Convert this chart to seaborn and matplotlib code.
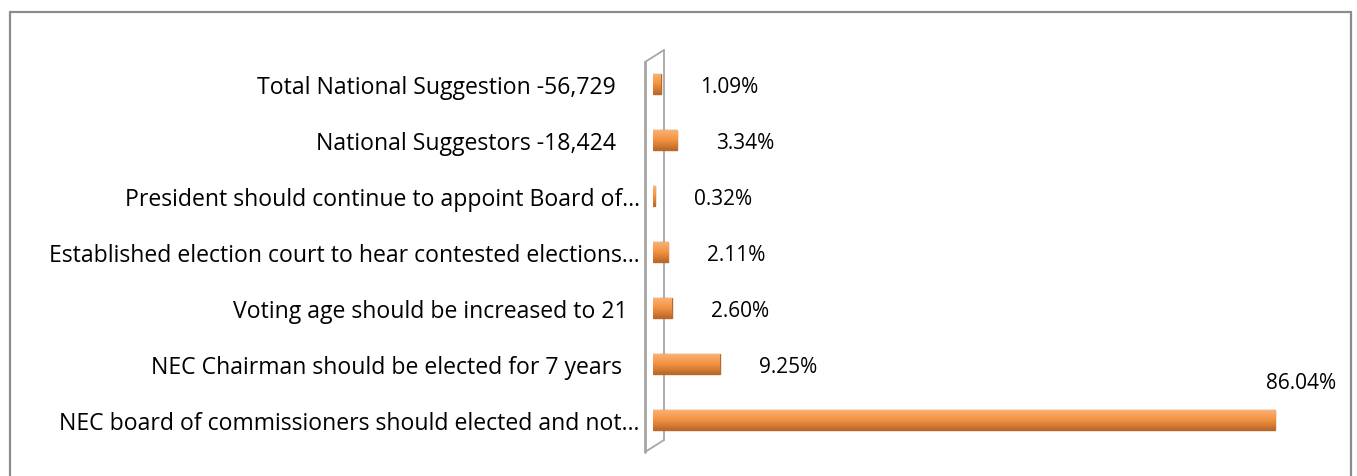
import matplotlib
matplotlib.use("Agg")
import matplotlib.pyplot as plt
from matplotlib.lines import Line2D
from matplotlib.colors import LinearSegmentedColormap
import numpy as np
import pandas as pd
import seaborn as sns

# Datos (de arriba hacia abajo)
labels = [
    "Total National Suggestion -56,729    ",
    "National Suggestors -18,424    ",
    "President should continue to appoint Board of\u2026",
    "Established election court to hear contested elections\u2026",
    "Voting age should be increased to 21  ",
    "NEC Chairman should be elected for 7 years   ",
    "NEC board of commissioners should elected and not\u2026",
]
values = [1.09, 3.34, 0.32, 2.11, 2.60, 9.25, 86.04]
value_text = ["1.09%", "3.34%", "0.32%", "2.11%", "2.60%", "9.25%", "86.04%"]

df = pd.DataFrame({"label": labels, "value": values})

sns.set_theme(style="white")
plt.rcParams["font.family"] = ["Open Sans", "DejaVu Sans"]

W, H = 1357, 477
fig = plt.figure(figsize=(W / 100, H / 100), dpi=100)
fig.patch.set_facecolor("white")

# ejes colocados en pixeles
left, right, top, bottom = 653, 1345, 40, 465
ax = fig.add_axes([left / W, (H - bottom) / H, (right - left) / W, (bottom - top) / H])

sns.barplot(data=df, x="value", y="label", orient="h", ax=ax, width=0.36,
            color="#F59A4C", edgecolor="#B8692A", linewidth=1.0, saturation=1)

ax.set_xlim(0, (right - left) / 7.23)
ax.set_ylim(6 + (bottom - 421) / 56, -(85 - top) / 56)

# sombreado tipo cilindro
cyl = LinearSegmentedColormap.from_list(
    "cyl", ["#F8B57C", "#F7A35C", "#F39445", "#D97E35", "#B8692A"])
grad = np.linspace(0, 1, 64).reshape(-1, 1)
for p in list(ax.patches):
    x0, y0 = p.get_x(), p.get_y()
    w, h = p.get_width(), p.get_height()
    im = ax.imshow(grad, cmap=cyl, aspect="auto", origin="upper",
                   extent=[x0, x0 + w, y0 + h, y0], zorder=p.get_zorder() + 0.1)
    im.set_clip_path(p)
    p.set_zorder(p.get_zorder())
ax.set_xlim(0, (right - left) / 7.23)
ax.set_ylim(6 + (bottom - 421) / 56, -(85 - top) / 56)

ax.set_xlabel("")
ax.set_ylabel("")
ax.set_xticks([])
for s in ax.spines.values():
    s.set_visible(False)
ax.tick_params(axis="y", length=0, pad=9.5, labelsize=16.6, labelcolor="#000000")
ax.patch.set_alpha(0)

# etiquetas de datos
for i, (v, t) in enumerate(zip(values, value_text)):
    if v > 50:
        ax.annotate(t, (v, i), xytext=(44, 27), textcoords="offset points",
                    ha="right", va="center", fontsize=15, color="#000000")
    else:
        ax.annotate(t, (v, i), xytext=(28, -2), textcoords="offset points",
                    ha="left", va="center", fontsize=15, color="#000000")


def px(x, y):
    return x / W, 1 - y / H


# pared 3D detras de las barras
wall = "#A6A6A6"
for (x0, y0), (x1, y1), lw in [((645, 63), (645, 453), 2.0),
                               ((664, 51), (664, 441), 1.3),
                               ((645, 63), (664, 51), 1.3),
                               ((645, 453), (664, 441), 1.3)]:
    a, b = px(x0, y0), px(x1, y1)
    fig.add_artist(Line2D([a[0], b[0]], [a[1], b[1]], color=wall, lw=lw,
                          zorder=0))

# borde del area del grafico
for (x0, y0), (x1, y1) in [((10, 13), (10, 477)), ((10, 13), (1351, 13)),
                           ((1351, 13), (1351, 477))]:
    a, b = px(x0, y0), px(x1, y1)
    fig.add_artist(Line2D([a[0], b[0]], [a[1], b[1]], color="#8C8C8C", lw=1.6))

fig.savefig("out.png", dpi=100, facecolor="white")
